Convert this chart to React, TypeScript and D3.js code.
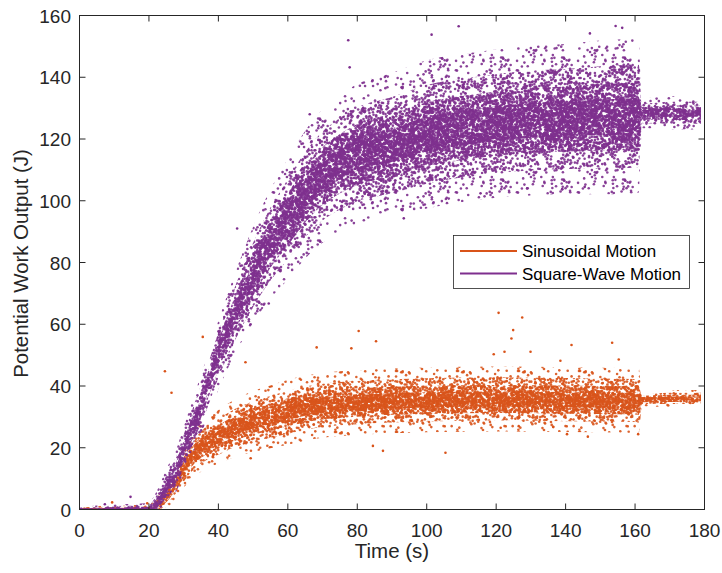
import React from "react";
import * as d3 from "d3";

const W = 722;
const H = 573;

const X_TICKS = [0, 20, 40, 60, 80, 100, 120, 140, 160, 180];
const Y_TICKS = [0, 20, 40, 60, 80, 100, 120, 140, 160];

const SERIES_NAMES = ["Sinusoidal Motion", "Square-Wave Motion"];
const SERIES_COLORS = ["#D95319", "#7E2F8E"];

// Sinusoidal motion: time (s), trend of the point cloud (J), spread of the cloud (J)
const SIN_T = [0, 7, 20, 21, 23, 25, 28, 30, 32, 36, 40, 45, 50, 55, 60, 65, 70, 80, 90, 100, 120, 140, 160, 161, 162, 170, 179];
const SIN_MEAN = [0, 0, 0, 0.5, 2, 4, 9, 13, 16.5, 21, 23.5, 26.5, 28.5, 30, 31.5, 32.8, 33.7, 34.6, 35.2, 35.5, 35.8, 35.6, 35.3, 35.3, 35.8, 36, 36];
const SIN_SPREAD = [0.15, 0.4, 0.5, 0.6, 1, 1.3, 1.7, 2, 2.3, 2.7, 2.9, 3.1, 3.3, 3.4, 3.5, 3.5, 3.5, 3.5, 3.5, 3.5, 3.5, 3.5, 3.5, 3.6, 0.8, 0.9, 0.9];
// Sinusoidal motion: isolated outliers
const SIN_OUT_T = [9.4, 19.5, 24.6, 26.5, 35.5, 47.8, 49.3, 68.3, 78.3, 80.4, 84.5, 85.4, 87.4, 105.4, 119.3, 120.7, 121.3, 122.4, 124.4, 124.9, 126.5, 127.5, 129.9, 136.4, 138.5, 140.4, 141.7, 146.4, 153.4, 155.3, 160.9];
const SIN_OUT_V = [2.3, 2.0, 44.8, 37.8, 55.9, 47.7, 16.6, 52.5, 52.2, 57.8, 20.6, 54.5, 19.0, 18.4, 50.3, 63.7, 26.5, 51.1, 55.4, 58.1, 27.0, 62.2, 51.1, 26.8, 48.2, 24.4, 53.3, 23.6, 54.0, 48.6, 24.4];

// Square-wave motion: time (s), trend of the point cloud (J), spread of the cloud (J)
const SQ_T = [0, 7, 20, 21, 23, 25, 28, 30, 33, 36, 40, 45, 50, 55, 60, 65, 70, 75, 80, 90, 100, 110, 120, 130, 140, 150, 160, 161, 162, 170, 179];
const SQ_MEAN = [0, 0, 0, 0.5, 3, 7, 13, 19, 28, 37, 50, 64, 76, 86, 94, 102, 108, 112, 115, 118, 121.5, 123.5, 125, 126, 126.5, 127, 127.5, 127.8, 128.3, 128.5, 128.5];
const SQ_SPREAD = [0.2, 0.5, 0.7, 1, 1.6, 2, 2.3, 2.6, 3, 3.3, 3.7, 4.4, 5.2, 5.9, 6.5, 6.9, 7.2, 7.4, 7.6, 7.8, 8, 8, 8, 8.1, 8.1, 8.3, 8.4, 8.4, 1.6, 1.8, 1.8];
// Square-wave motion: isolated outliers
const SQ_OUT_T = [7.3, 14.7, 45.4, 54.5, 66.3, 77.4, 77.8, 93.4, 101.4, 109.2, 115.5, 128.9, 139, 145.5, 147, 154.4, 156.3];
const SQ_OUT_V = [1.7, 4.1, 91, 66.7, 128, 152, 143.2, 94.3, 153.8, 156.5, 102.4, 104, 103.7, 104.5, 154.2, 156.6, 156];

// density levels of the dot texture: band half-width in spreads, tile size (px), dots per px²
const LEVELS = [
  { k: 3.0, size: 61, dens: 0.028 },
  { k: 2.0, size: 67, dens: 0.08 },
  { k: 1.3, size: 71, dens: 0.15 },
  { k: 0.7, size: 73, dens: 0.22 },
];

const FONT = "'Liberation Sans', Arial, Helvetica, sans-serif";
const INK = "#262626";
const DOT_R = 1.3;

// deterministic integer hash (texture placement only)
function hash01(a: number) {
  let h = a | 0;
  h ^= h >>> 16;
  h = Math.imul(h, 0x85ebca6b);
  h ^= h >>> 13;
  h = Math.imul(h, 0xc2b2ae35);
  h ^= h >>> 16;
  return (h >>> 0) / 4294967296;
}

function DotPattern({ id, size, dens, color, seed }: { id: string; size: number; dens: number; color: string; seed: number }) {
  const n = Math.round(dens * size * size);
  const dots: JSX.Element[] = [];
  for (let i = 0; i < n; i++) {
    const px = hash01(seed * 100003 + i * 2 + 1) * size;
    const py = hash01(seed * 100003 + i * 2 + 2) * size;
    const xs = [0];
    const ys = [0];
    if (px < DOT_R + 1) xs.push(size);
    if (px > size - DOT_R - 1) xs.push(-size);
    if (py < DOT_R + 1) ys.push(size);
    if (py > size - DOT_R - 1) ys.push(-size);
    for (const dx of xs) {
      for (const dy of ys) {
        dots.push(<circle key={`${i}-${dx}-${dy}`} cx={px + dx} cy={py + dy} r={DOT_R} fill={color} fillOpacity={0.9} />);
      }
    }
  }
  return (
    <pattern id={id} width={size} height={size} patternUnits="userSpaceOnUse">
      {dots}
    </pattern>
  );
}

export default function App() {
  const L = 79.5, R = 704.5, T = 15.5, B = 509.5;
  const x = d3.scaleLinear().domain([0, 180]).range([L, R]);
  const y = d3.scaleLinear().domain([0, 160]).range([B, T]);

  const band = (ts: number[], m: number[], s: number[], k: number) =>
    d3
      .area<number>()
      .x((t) => x(t))
      .y0((_, i) => y(m[i] - k * s[i]))
      .y1((_, i) => y(m[i] + k * s[i]))
      .curve(d3.curveMonotoneX)(ts) || "";

  const zeroLine = (ts: number[], m: number[]) => {
    const idx = ts.map((_, i) => i).filter((i) => ts[i] <= 20);
    return d3
      .line<number>()
      .x((i) => x(ts[i]))
      .y((i) => y(m[i]))(idx) || "";
  };

  const series = [
    { key: "sin", T: SIN_T, M: SIN_MEAN, S: SIN_SPREAD, OT: SIN_OUT_T, OV: SIN_OUT_V, color: SERIES_COLORS[0] },
    { key: "sq", T: SQ_T, M: SQ_MEAN, S: SQ_SPREAD, OT: SQ_OUT_T, OV: SQ_OUT_V, color: SERIES_COLORS[1] },
  ];

  return (
    <svg width={W} height={H} style={{ position: "fixed", left: 0, top: 0, background: "#fff" }} fontFamily={FONT}>
      <defs>
        <clipPath id="plot">
          <rect x={L} y={T} width={R - L} height={B - T} />
        </clipPath>
        {series.map((s, k) =>
          LEVELS.map((lv, j) => (
            <DotPattern key={`${s.key}-${j}`} id={`${s.key}-lv${j}`} size={lv.size} dens={lv.dens} color={s.color} seed={1 + k * 10 + j} />
          ))
        )}
      </defs>
      <rect width={W} height={H} fill="#fff" />

      <g clipPath="url(#plot)">
        {series.map((s) => (
          <g key={s.key}>
            {LEVELS.map((lv, j) => (
              <path key={j} d={band(s.T, s.M, s.S, lv.k)} fill={`url(#${s.key}-lv${j})`} />
            ))}
            <path d={zeroLine(s.T, s.M)} stroke={s.color} strokeWidth={2.2} fill="none" />
            {s.OT.map((t, i) => (
              <circle key={i} cx={x(t)} cy={y(s.OV[i])} r={DOT_R} fill={s.color} />
            ))}
          </g>
        ))}
      </g>

      {/* axes box */}
      <rect x={L} y={T} width={R - L} height={B - T} fill="none" stroke={INK} strokeWidth={1} />
      {X_TICKS.map((t) => (
        <g key={`x${t}`}>
          <line x1={x(t)} x2={x(t)} y1={B} y2={B - 6} stroke={INK} />
          <line x1={x(t)} x2={x(t)} y1={T} y2={T + 6} stroke={INK} />
          <text x={x(t)} y={537} textAnchor="middle" fontSize={19} fill={INK}>
            {t}
          </text>
        </g>
      ))}
      {Y_TICKS.map((v) => (
        <g key={`y${v}`}>
          <line x1={L} x2={L + 6} y1={y(v)} y2={y(v)} stroke={INK} />
          <line x1={R} x2={R - 6} y1={y(v)} y2={y(v)} stroke={INK} />
          <text x={71} y={y(v) + 7} textAnchor="end" fontSize={19} fill={INK}>
            {v}
          </text>
        </g>
      ))}
      <text x={(L + R) / 2} y={558} textAnchor="middle" fontSize={20.5} fill={INK}>
        Time (s)
      </text>
      <text transform={`translate(27.5,${(T + B) / 2 + 1}) rotate(-90)`} textAnchor="middle" fontSize={20.4} fill={INK}>
        Potential Work Output (J)
      </text>

      {/* legend */}
      <rect x={453.5} y={235.5} width={236} height={53} fill="#fff" stroke={INK} strokeWidth={0.8} />
      {SERIES_NAMES.map((name, i) => (
        <g key={name}>
          <line x1={460} x2={517} y1={251 + i * 22.5} y2={251 + i * 22.5} stroke={SERIES_COLORS[i]} strokeWidth={2} />
          <text x={522} y={251 + i * 22.5 + 6} fontSize={17} fill="#000">
            {name}
          </text>
        </g>
      ))}
    </svg>
  );
}
